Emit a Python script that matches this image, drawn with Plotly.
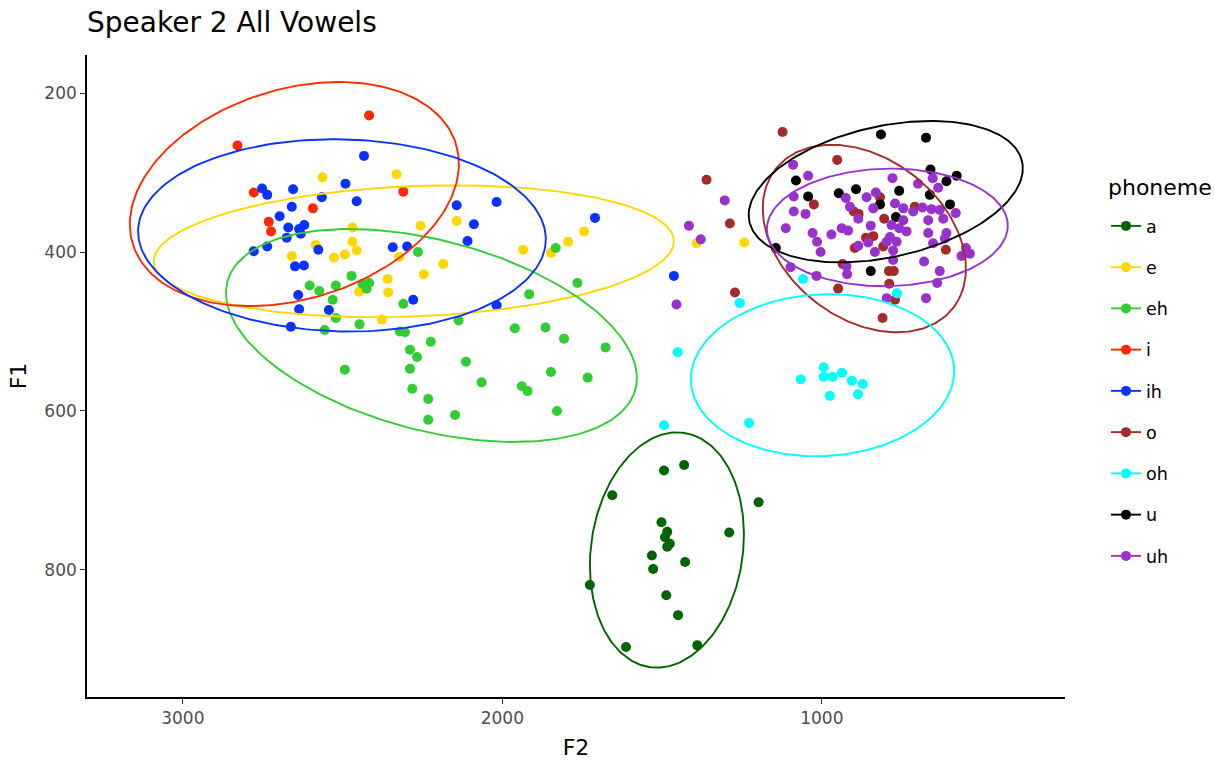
import numpy as np
import plotly.graph_objects as go

# ---------------- data (F2, F1 in Hz) ----------------
phonemes = ["a", "e", "eh", "i", "ih", "o", "oh", "u", "uh"]
colors = ["#006400", "#FFD700", "#32CD32", "#FF2A00", "#0A32FF",
          "#A52A2A", "#00FFFF", "#000000", "#9932CC"]

a_f2 = [1494, 1431, 1656, 1198, 1502, 1484, 1491, 1476, 1484, 1290, 1532, 1428, 1528, 1726, 1487, 1450, 1613, 1390]
a_f1 = [675, 668, 706, 715, 740, 752, 759, 767, 771, 753, 782, 790, 799, 819, 832, 857, 897, 895]

e_f2 = [2563, 2331, 2469, 2256, 2143, 2584, 2469, 2456, 2527, 2493, 2659, 2323, 2185, 2246, 2359, 2357,
        2448, 2377, 1935, 1848, 1794, 1744, 1392, 1243]
e_f1 = [306, 302, 369, 367, 361, 391, 387, 398, 407, 403, 405, 406, 415, 428, 434, 451,
        450, 485, 397, 401, 387, 374, 389, 388]

eh_f2 = [2264, 2472, 2603, 2573, 2521, 2438, 2417, 2425, 2531, 2310, 2521, 2447, 2556, 2321, 2305, 2224,
         2289, 2267, 2289, 2493, 2282, 2232, 2232, 2148, 2114, 2065, 2137, 1961, 1916, 1865, 1807, 1765,
         1833, 1677, 1848, 1733, 1939, 1921, 1829]
eh_f1 = [400, 430, 442, 449, 442, 440, 439, 446, 460, 465, 483, 491, 498, 500, 501, 513,
         523, 532, 547, 548, 572, 585, 611, 605, 538, 564, 486, 496, 453, 495, 509, 439,
         395, 520, 551, 558, 569, 575, 600]

i_f2 = [2417, 2829, 2778, 2593, 2310, 2731, 2724]
i_f1 = [228, 266, 325, 345, 324, 362, 374]

ih_f2 = [2433, 2752, 2736, 2655, 2565, 2491, 2456, 2659, 2697, 2670, 2636, 2620, 2675, 2631, 2576, 2778,
         2736, 2649, 2621, 2639, 2636, 2543, 2662, 2343, 2298, 2279, 2143, 2089, 2109, 2018, 2018, 1710, 1463]
ih_f1 = [279, 320, 328, 321, 331, 314, 336, 343, 355, 369, 371, 366, 382, 377, 397, 399,
         393, 418, 417, 454, 472, 473, 494, 394, 393, 460, 341, 365, 386, 337, 467, 357, 430]

o_f2 = [1123, 952, 1025, 900, 885, 805, 818, 862, 839, 897, 808, 935, 790, 775, 789, 771,
        949, 810, 612, 709, 1361, 1288, 1272]
o_f1 = [249, 284, 340, 349, 352, 358, 331, 382, 380, 395, 393, 415, 424, 424, 440, 460,
        446, 483, 397, 343, 309, 364, 451]

oh_f2 = [1059, 765, 1257, 1451, 1494, 1228, 1066, 994, 994, 966, 937, 906, 872, 887, 975]
oh_f1 = [434, 452, 464, 526, 618, 615, 560, 545, 557, 557, 552, 562, 566, 579, 581]

u_f2 = [815, 674, 660, 578, 610, 1081, 1043, 947, 893, 758, 818, 662, 599, 847, 768, 1144]
u_f1 = [252, 256, 296, 304, 311, 310, 330, 326, 321, 323, 340, 328, 340, 424, 356, 395]

uh_f2 = [1090, 1043, 1088, 1088, 1051, 1113, 1029, 1015, 1004, 1098, 1017, 970, 938, 918, 925, 912,
         886, 860, 831, 839, 847, 855, 886, 834, 923, 921, 779, 699, 653, 636, 771, 745,
         714, 685, 657, 631, 581, 620, 667, 745, 782, 758, 735, 787, 766, 797, 667, 610,
         615, 652, 777, 777, 549, 563, 537, 680, 631, 639, 797, 674, 1304, 1416, 1379, 1455]
uh_f1 = [290, 304, 330, 349, 352, 370, 376, 387, 400, 419, 430, 378, 370, 373, 332, 343,
         358, 331, 325, 345, 367, 388, 392, 400, 418, 428, 307, 314, 307, 319, 339, 345,
         349, 344, 346, 347, 351, 358, 360, 360, 366, 370, 374, 381, 387, 387, 376, 376,
         383, 389, 398, 410, 395, 405, 402, 412, 424, 439, 458, 458, 335, 367, 384, 466]

# 95% ellipse shape per phoneme: centre, half-extent in F2 / F1 and tilt (correlation)
ell_cx = [1485, 2277, 2222, 2651, 2502, 867, 998, 800, 795]
ell_cy = [775, 399, 505, 327, 379, 383, 555, 324, 369]
ell_sx = [241, 814, 643, 515, 638, 318, 412, 429, 377]
ell_sy = [148, 83, 134, 141, 121, 118, 102, 89, 74]
ell_r = [0.13, 0.15, -0.40, 0.27, -0.04, -0.32, 0.05, 0.33, 0.03]

x_ticks = [3000, 2000, 1000]
y_ticks = [200, 400, 600, 800]

series_f2 = [a_f2, e_f2, eh_f2, i_f2, ih_f2, o_f2, oh_f2, u_f2, uh_f2]
series_f1 = [a_f1, e_f1, eh_f1, i_f1, ih_f1, o_f1, oh_f1, u_f1, uh_f1]

FONT = "DejaVu Sans"
W, H = 1215, 762
ML, MR, MT, MB = 87, 150, 55, 65
PW, PH = W - ML - MR, H - MT - MB
fig = go.Figure()

# points
for name, col, xs, ys in zip(phonemes, colors, series_f2, series_f1):
    fig.add_trace(go.Scatter(x=xs, y=ys, mode="markers", name=name, legendgroup=name,
                             showlegend=False,
                             marker=dict(color=col, size=10, line=dict(width=0)),
                             hoverinfo="x+y+name"))

# ellipses
t = np.linspace(0, 2 * np.pi, 241)
for k, (name, col) in enumerate(zip(phonemes, colors)):
    r = ell_r[k]
    ex = ell_cx[k] + ell_sx[k] * np.cos(t)
    ey = ell_cy[k] + ell_sy[k] * (r * np.cos(t) + np.sqrt(1 - r * r) * np.sin(t))
    fig.add_trace(go.Scatter(x=ex, y=ey, mode="lines", name=name, legendgroup=name,
                             showlegend=False, line=dict(color=col, width=1.9),
                             hoverinfo="skip"))

# legend keys (line + point, like ggplot)
for name, col in zip(phonemes, colors):
    fig.add_trace(go.Scatter(x=[None], y=[None], mode="lines+markers", name=name,
                             legendgroup=name, showlegend=True,
                             line=dict(color=col, width=1.9),
                             marker=dict(color=col, size=10)))

fig.update_layout(
    width=W, height=H,
    margin=dict(l=ML, r=MR, t=MT, b=MB, autoexpand=False),
    paper_bgcolor="white", plot_bgcolor="white",
    font=dict(family=FONT, color="black"),
    title=dict(text="Speaker 2 All Vowels", x=ML / W, xref="container", xanchor="left",
               y=1 - 22 / H, yref="container", yanchor="middle",
               font=dict(family=FONT, size=28, color="black")),
    legend=dict(x=(1106 - ML) / PW, xanchor="left",
                y=(H - MB - 208) / PH, yanchor="top",
                font=dict(family=FONT, size=17.5, color="black"),
                tracegroupgap=15.5, itemwidth=30, bgcolor="rgba(0,0,0,0)"),
    showlegend=True,
    annotations=[dict(text="phoneme", x=(1106 - ML) / PW, xref="paper", xanchor="left",
                      y=(H - MB - 187) / PH, yref="paper", yanchor="middle", showarrow=False,
                      font=dict(family=FONT, size=22, color="black"))],
)

fig.update_xaxes(range=[3300, 239], tickvals=x_ticks, ticktext=[str(v) for v in x_ticks],
                 showline=True, linecolor="black", linewidth=1.6, mirror=False,
                 ticks="outside", ticklen=5, tickwidth=1.3, tickcolor="#333333",
                 showgrid=False, zeroline=False, automargin=False,
                 tickfont=dict(family=FONT, size=17, color="#4D4D4D"),
                 title=dict(text="F2", font=dict(family=FONT, size=22, color="black"), standoff=12))
fig.update_yaxes(range=[960, 152], tickvals=y_ticks, ticktext=[str(v) for v in y_ticks],
                 showline=True, linecolor="black", linewidth=1.6, mirror=False,
                 ticks="outside", ticklen=5, tickwidth=1.3, tickcolor="#333333",
                 showgrid=False, zeroline=False, automargin=False,
                 tickfont=dict(family=FONT, size=17, color="#4D4D4D"),
                 title=dict(text="F1", font=dict(family=FONT, size=22, color="black"), standoff=12))

fig.write_html("out.html")
